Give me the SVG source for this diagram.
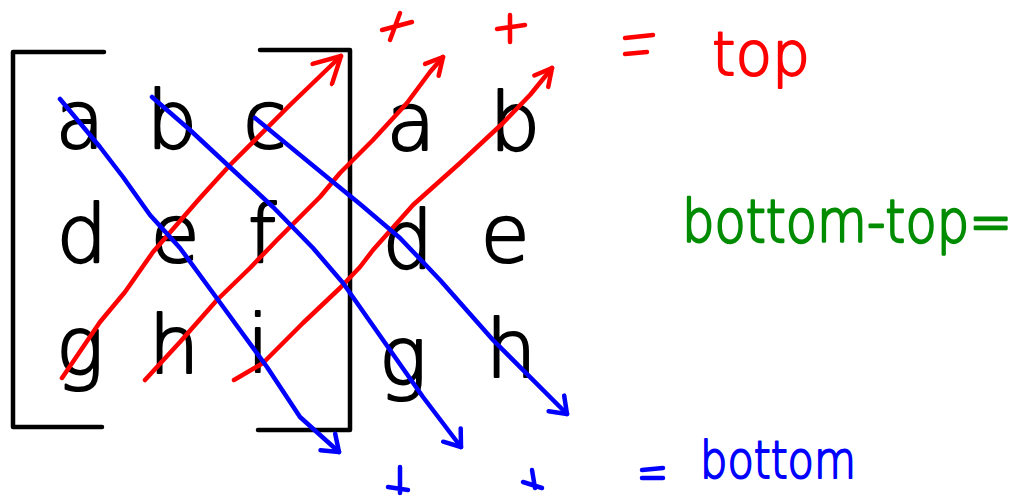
<svg xmlns="http://www.w3.org/2000/svg" width="1031" height="497" viewBox="0 0 1031 497">
<style>
.m{font-family:"DejaVu Sans",sans-serif;font-weight:200;font-size:80px;fill:#000;stroke:#000;stroke-width:2.2;stroke-linejoin:round;text-anchor:middle}
.br{fill:none;stroke:#000;stroke-width:4.5;stroke-linecap:round;stroke-linejoin:round}
.r{fill:none;stroke:#ff0000;stroke-width:4.5;stroke-linecap:round;stroke-linejoin:round}
.b{fill:none;stroke:#0000ff;stroke-width:4.5;stroke-linecap:round;stroke-linejoin:round}
.lab{font-family:"DejaVu Sans",sans-serif;font-weight:200;stroke-width:2;stroke-linejoin:round}
</style>
<defs>
<marker id="redBig" markerUnits="userSpaceOnUse" viewBox="0 0 32 32" refX="29" refY="16" markerWidth="32" markerHeight="32" orient="auto">
<path d="M3,2 L29,16 L3,30" fill="none" stroke="#ff0000" stroke-width="4.5" stroke-linecap="round" stroke-linejoin="round"/>
</marker>
<marker id="redSmall" markerUnits="userSpaceOnUse" viewBox="0 0 24 24" refX="21" refY="12" markerWidth="24" markerHeight="24" orient="auto">
<path d="M4,3 L21,12 L4,21" fill="none" stroke="#ff0000" stroke-width="4.5" stroke-linecap="round" stroke-linejoin="round"/>
</marker>
<marker id="blueHead" markerUnits="userSpaceOnUse" viewBox="0 0 24 28" refX="19" refY="14" markerWidth="24" markerHeight="28" orient="auto">
<path d="M4,3 L19,14 L4,25" fill="none" stroke="#0000ff" stroke-width="4.5" stroke-linecap="round" stroke-linejoin="round"/>
</marker>
</defs>
<rect width="1031" height="497" fill="#fff"/>

<g id="bracket-left"><path class="br" d="M104,52 L13,52 L13,427 L102,427"/></g>
<g id="bracket-right"><path class="br" d="M260,50 L350,50 L350,430 L258,430"/></g>

<g id="cell-a"><text class="m" x="80" y="148">a</text></g>
<g id="cell-b"><text class="m" x="172" y="148">b</text></g>
<g id="cell-c"><text class="m" x="265" y="148">c</text></g>
<g id="cell-d"><text class="m" x="82" y="262">d</text></g>
<g id="cell-e"><text class="m" x="175" y="262">e</text></g>
<g id="cell-f"><text class="m" x="262" y="262">f</text></g>
<g id="cell-g"><text class="m" x="80" y="374">g</text></g>
<g id="cell-h"><text class="m" x="174" y="373">h</text></g>
<g id="cell-i"><text class="m" x="258" y="372">i</text></g>
<g id="ext-a"><text class="m" x="411" y="150">a</text></g>
<g id="ext-b"><text class="m" x="515" y="150">b</text></g>
<g id="ext-d"><text class="m" x="408" y="268">d</text></g>
<g id="ext-e"><text class="m" x="505" y="262">e</text></g>
<g id="ext-g"><text class="m" x="403" y="384">g</text></g>
<g id="ext-h"><text class="m" x="511" y="377">h</text></g>

<g id="connectors">
<polyline class="r" marker-end="url(#redBig)" points="62,378 100,322 125,292 153,252 200,198 230,165 290,105 341,56"/>
<polyline class="r" marker-end="url(#redSmall)" points="145,380 180,342 217,300 250,268 277,240 320,197 340,173 373,140 407,103 430,72 443,57"/>
<polyline class="r" marker-end="url(#redSmall)" points="234,380 263,363 303,323 340,288 360,267 373,250 413,205 460,163 503,123 530,95 552,68"/>
<polyline class="b" marker-end="url(#blueHead)" points="60,99 100,147 123,177 150,215 180,248 213,293 240,330 267,367 300,417 339,452"/>
<polyline class="b" marker-end="url(#blueHead)" points="152,97 190,130 233,170 273,207 313,248 343,283 383,340 423,397 461,447"/>
<polyline class="b" marker-end="url(#blueHead)" points="255,118 333,182 360,204 400,238 440,280 493,340 567,414"/>
</g>

<g id="top-signs">
<path class="r" d="M382,30 L412,22 M400,13 L390,40"/>
<path class="r" d="M497,29 L525,25 M510,15 L510,42"/>
<path class="r" d="M625,38 L653,35 M625,54 L647,52"/>
<text class="lab" x="712" y="75" font-size="60" fill="#ff0000" stroke="#ff0000" textLength="98" lengthAdjust="spacingAndGlyphs">top</text>
</g>

<g id="difference">
<text class="lab" transform="translate(682,242) scale(1,1.15)" x="0" y="0" font-size="51" fill="#008c00" stroke="#008c00" textLength="330" lengthAdjust="spacingAndGlyphs">bottom-top=</text>
</g>

<g id="bottom-signs">
<path class="b" d="M400,467 L400,493 M388,487 L408,490"/>
<path class="b" d="M532,470 L535,488 M523,482 L542,488"/>
<path class="b" d="M642,470 L663,468 M642,478 L663,478"/>
<text class="lab" x="700" y="478" font-size="52" fill="#0000ff" stroke="#0000ff" textLength="156" lengthAdjust="spacingAndGlyphs">bottom</text>
</g>
</svg>
